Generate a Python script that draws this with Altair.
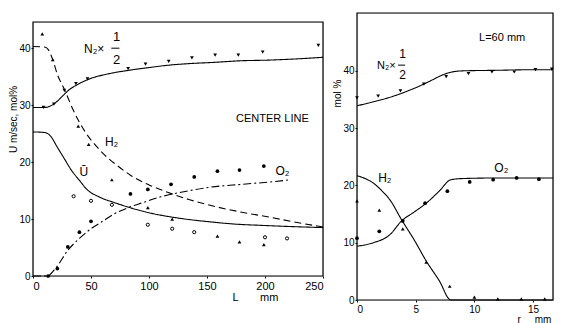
import altair as alt
import pandas as pd

# ---------------- Left panel: centre line, vs L (mm) ----------------
n2_curve_L = [0, 10, 18, 25, 30, 40, 50, 65, 82, 100, 116, 135, 155, 180, 202, 225, 250]
n2_curve_v = [29.6, 29.6, 30.2, 31.5, 32.5, 33.8, 34.7, 35.5, 36.1, 36.6, 37.0, 37.3, 37.5, 37.8, 37.9, 38.1, 38.4]

h2_curve_L = [0, 10, 13, 17, 21, 27, 35, 45, 55, 61, 72, 84, 100, 116, 135, 159, 180, 202, 225, 250]
h2_curve_v = [40.3, 40.2, 39.8, 38.0, 35.4, 32.8, 29.0, 25.3, 22.7, 21.4, 19.5, 17.7, 16.0, 14.7, 13.4, 12.1, 11.2, 10.4, 9.5, 8.6]

u_curve_L = [0, 10, 15, 21, 27, 33, 40, 46, 58, 70, 82, 100, 118, 135, 153, 175, 196, 220, 250]
u_curve_v = [25.3, 25.2, 24.6, 22.6, 20.6, 18.6, 16.8, 15.3, 13.8, 12.9, 12.1, 11.1, 10.4, 9.9, 9.5, 9.1, 8.9, 8.7, 8.5]

o2_curve_L = [0, 12, 20, 30, 40, 50, 60, 70, 82, 95, 110, 130, 153, 180, 204, 222]
o2_curve_v = [0, 0, 1.5, 4.5, 6.6, 8.3, 9.6, 10.9, 12.0, 12.9, 13.9, 14.8, 15.6, 16.1, 16.5, 16.9]

n2_pts_L = [9, 18, 27, 37, 47, 82, 97, 117, 137, 157, 177, 198, 246]
n2_pts_v = [29.6, 30.2, 32.6, 33.8, 34.6, 36.4, 37.2, 37.7, 38.3, 38.8, 38.8, 39.3, 40.5]

h2_pts_L = [8, 17, 39, 48, 68, 99, 120, 159, 178, 199]
h2_pts_v = [42.5, 38.0, 26.3, 23.1, 16.9, 12.0, 10.0, 7.0, 6.0, 5.5]

o2_pts_L = [13, 21, 30, 40, 50, 84, 99, 119, 139, 159, 178, 199]
o2_pts_v = [0, 1.3, 5.1, 7.7, 9.6, 14.4, 15.2, 16.1, 17.4, 18.4, 18.6, 19.3]

u_pts_L = [35, 50, 68, 99, 120, 139, 200, 219]
u_pts_v = [14.0, 13.2, 12.5, 9.0, 8.3, 7.7, 6.8, 6.6]

left_x_ticks = [0, 50, 100, 150, 200, 250]
left_y_ticks = [0, 10, 20, 30, 40]

left_labels = ["N₂×", "1", "2", "CENTER LINE", "H₂", "Ū", "O₂"]
left_label_L = [44, 69, 69, 175, 62, 40, 209]
left_label_v = [39.8, 42.0, 37.9, 27.5, 23.6, 18.3, 18.4]
left_label_size = [12, 13, 13, 11, 12, 12, 12]

# ---------------- Right panel: L = 60 mm, vs r (mm) ----------------
n2r_curve_r = [0, 1.4, 2.5, 3.7, 4.7, 5.6, 6.5, 7.3, 8.1, 9, 12, 15, 16.7]
n2r_curve_v = [33.9, 34.6, 35.2, 36.0, 36.8, 37.6, 38.5, 39.3, 39.8, 40.0, 40.1, 40.2, 40.2]

h2r_curve_r = [0, 0.7, 1.4, 2.1, 2.8, 3.8, 4.9, 5.9, 7.0, 8.0, 12, 16.7]
h2r_curve_v = [21.7, 21.2, 20.4, 19.1, 17.5, 14.0, 10.4, 6.8, 3.4, 0, 0, 0]

o2r_curve_r = [0, 1.4, 2.8, 3.8, 4.9, 5.9, 7.0, 8.0, 9, 12, 15, 16.7]
o2r_curve_v = [9.4, 10.0, 11.4, 13.8, 15.4, 16.9, 19.0, 21.0, 21.2, 21.3, 21.3, 21.3]

n2r_pts_r = [0, 1.8, 3.7, 5.7, 7.6, 9.5, 11.5, 13.4, 15.2, 16.6]
n2r_pts_v = [35.3, 35.6, 36.5, 37.7, 39.0, 39.5, 39.8, 39.8, 40.2, 40.3]

h2r_pts_r = [0, 1.9, 3.9, 5.9, 7.9, 10, 12, 14, 16]
h2r_pts_v = [17.3, 15.7, 12.4, 6.6, 2.4, 0.5, 0.2, 0.2, 0.2]

o2r_pts_r = [0, 1.9, 3.9, 5.8, 7.7, 9.6, 11.6, 13.6, 15.5]
o2r_pts_v = [10.8, 12.0, 13.8, 16.9, 19.0, 20.6, 21.0, 21.3, 21.1]

right_x_ticks = [0, 5, 10, 15]
right_y_ticks = [0, 10, 20, 30, 40]

right_labels = ["L=60 mm", "N₂×", "1", "2", "H₂", "O₂"]
right_label_r = [10.4, 1.7, 3.6, 3.6, 1.8, 11.7]
right_label_v = [45.8, 40.9, 42.9, 39.2, 21.3, 23.0]
right_label_size = [11, 11, 12, 12, 12, 12]

FONT = "Liberation Sans"
NB = "\u00a0"


def frame(xs, ys):
    return pd.DataFrame({"x": xs, "y": ys})


def build_panel(xdom, ydom, xticks, yticks, xtitle, ytitle, w, h,
                curves, points, labels, xtitle_x, ytitle_y, bar, xfs, xtp):
    xs = alt.Scale(domain=xdom, nice=False, zero=False)
    ys = alt.Scale(domain=ydom, nice=False, zero=False)
    xax = alt.Axis(values=xticks, title=xtitle, titleX=xtitle_x, titleAlign="center",
                   grid=False, domain=False, tickSize=2, labelPadding=2,
                   labelFontSize=xfs, titleFontSize=xfs, titleFontWeight="normal",
                   titlePadding=xtp, labelFont=FONT, titleFont=FONT, labelColor="black",
                   titleColor="black", tickColor="black")
    yax = alt.Axis(values=yticks, title=ytitle, titleY=ytitle_y, grid=False, domain=False,
                   tickSize=2, labelPadding=1, labelFontSize=10, titleFontSize=10,
                   titleFontWeight="normal", titlePadding=0, labelFont=FONT,
                   titleFont=FONT, labelColor="black", titleColor="black", tickColor="black")
    layers = []
    first = True
    for xv, yv, dash in curves:
        if first:
            enc_x = alt.X("x:Q", scale=xs, axis=xax)
            enc_y = alt.Y("y:Q", scale=ys, axis=yax)
            first = False
        else:
            enc_x = alt.X("x:Q", scale=xs)
            enc_y = alt.Y("y:Q", scale=ys)
        layers.append(
            alt.Chart(frame(xv, yv)).mark_line(color="black", strokeWidth=1.1,
                                               strokeDash=dash, interpolate="monotone")
            .encode(x=enc_x, y=enc_y)
        )
    for xv, yv, shape, filled, size in points:
        layers.append(
            alt.Chart(frame(xv, yv)).mark_point(shape=shape, filled=filled, size=size,
                                                color="black", strokeWidth=1, opacity=1)
            .encode(x=alt.X("x:Q", scale=xs), y=alt.Y("y:Q", scale=ys))
        )
    lab_df = pd.DataFrame({"x": labels[1], "y": labels[2], "t": labels[0], "s": labels[3]})
    for s in sorted(set(labels[3])):
        layers.append(
            alt.Chart(lab_df[lab_df.s == s]).mark_text(align="left", baseline="middle",
                                                       fontSize=s, font=FONT, color="black")
            .encode(x=alt.X("x:Q", scale=xs), y=alt.Y("y:Q", scale=ys), text="t:N")
        )
    bx, bx2, by = bar
    layers.append(
        alt.Chart(pd.DataFrame({"x": [bx], "x2": [bx2], "y": [by]})).mark_rule(
            color="black", strokeWidth=1)
        .encode(x=alt.X("x:Q", scale=xs), x2="x2:Q", y=alt.Y("y:Q", scale=ys))
    )
    # plot frame, drawn through the scales from the axis ranges
    layers.append(
        alt.Chart(pd.DataFrame({"x": [xdom[0]], "x2": [xdom[1]],
                                "y": [ydom[0]], "y2": [ydom[1]]}))
        .mark_rect(fillOpacity=0, stroke="black", strokeWidth=1.2)
        .encode(x=alt.X("x:Q", scale=xs), x2="x2:Q",
                y=alt.Y("y:Q", scale=ys), y2="y2:Q")
    )
    return alt.layer(*layers).properties(width=w, height=h)


left = build_panel(
    [0, 250], [0, 44.6], left_x_ticks, left_y_ticks, "L" + NB * 7 + "mm", "U m/sec, mol%", 290, 254,
    [(n2_curve_L, n2_curve_v, [1, 0]),
     (h2_curve_L, h2_curve_v, [7, 4]),
     (u_curve_L, u_curve_v, [1, 0]),
     (o2_curve_L, o2_curve_v, [8, 3, 2, 3])],
    [(n2_pts_L, n2_pts_v, "triangle-down", True, 14),
     (h2_pts_L, h2_pts_v, "triangle-up", True, 14),
     (o2_pts_L, o2_pts_v, "circle", True, 14),
     (u_pts_L, u_pts_v, "circle", False, 10)],
    (left_labels, left_label_L, left_label_v, left_label_size),
    222, 97, (67.5, 74.5, 40.0), 11, 0,
)

# invisible spacer to lower the left panel a little
spacer = alt.Chart(pd.DataFrame({"a": [0]})).mark_point(opacity=0).encode(
    x=alt.value(0), y=alt.value(0)
).properties(width=10, height=1, view=alt.ViewBackground(strokeOpacity=0))

left_col = alt.vconcat(spacer, left, spacing=4)

right = build_panel(
    [0, 16.7], [0, 50.1], right_x_ticks, right_y_ticks, "r" + NB * 5 + "mm", "mol %", 196, 287,
    [(n2r_curve_r, n2r_curve_v, [1, 0]),
     (h2r_curve_r, h2r_curve_v, [1, 0]),
     (o2r_curve_r, o2r_curve_v, [1, 0])],
    [(n2r_pts_r, n2r_pts_v, "triangle-down", True, 14),
     (h2r_pts_r, h2r_pts_v, "triangle-up", True, 14),
     (o2r_pts_r, o2r_pts_v, "circle", True, 14)],
    (right_labels, right_label_r, right_label_v, right_label_size),
    177, 80, (3.5, 4.1, 41.0), 10, 0,
)

chart = alt.hconcat(left_col, right, spacing=6).properties(
    padding={"left": 0, "top": 2, "right": 0, "bottom": 0}
).configure_view(strokeWidth=0, strokeOpacity=0).configure(background="white")

chart.save("out.html", embed_options={"renderer": "svg", "actions": False})
